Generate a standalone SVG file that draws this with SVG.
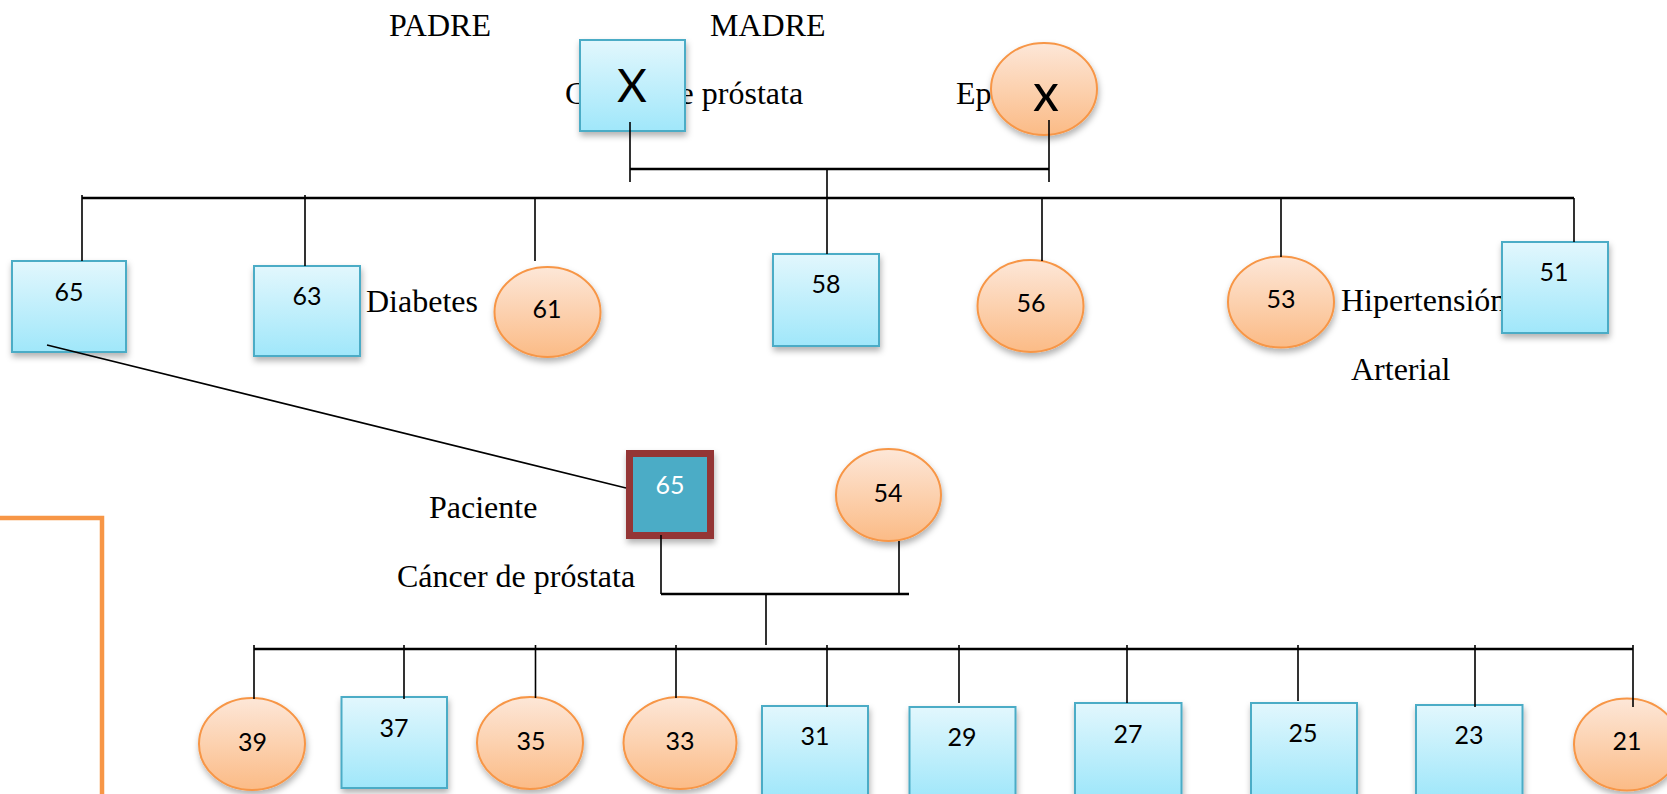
<svg xmlns="http://www.w3.org/2000/svg" width="1667" height="794" viewBox="0 0 1667 794">
<defs>
<linearGradient id="gB" x1="0" y1="0" x2="0" y2="1"><stop offset="0" stop-color="#e2f7fd"/><stop offset="1" stop-color="#a0e7fa"/></linearGradient>
<linearGradient id="gO" x1="0" y1="0" x2="0" y2="1"><stop offset="0" stop-color="#fde7d8"/><stop offset="1" stop-color="#fbbb86"/></linearGradient>
<filter id="sh" x="-20%" y="-20%" width="140%" height="150%"><feDropShadow dx="1" dy="4" stdDeviation="3" flood-color="#000" flood-opacity="0.3"/></filter>
</defs>
<style>
.sq{fill:url(#gB);stroke:#4bacc6;stroke-width:2;filter:url(#sh)}
.el{fill:url(#gO);stroke:#f79646;stroke-width:2;filter:url(#sh)}
.num{font-family:Lato,"Open Sans",sans-serif;font-size:25px;fill:#000;text-anchor:middle}
.big{font-family:Lato,"Open Sans",sans-serif;fill:#000;text-anchor:middle}
.lbl{font-family:"Liberation Serif","Times New Roman",serif;font-size:32px;fill:#000}
.ln{stroke:#000;stroke-width:1.6;fill:none}
.th{stroke:#000;stroke-width:2.6;fill:none}
</style>
<rect width="1667" height="794" fill="#fff"/>
<g id="labels">
<text class="lbl" x="389" y="36">PADRE</text>
<text class="lbl" x="710" y="36">MADRE</text>
<text class="lbl" x="565" y="104">Cáncer de próstata</text>
<text class="lbl" x="956" y="104">Ep</text>
<text class="lbl" x="366" y="312">Diabetes</text>
<text class="lbl" x="1341" y="311">Hipertensión</text>
<text class="lbl" x="1351" y="380">Arterial</text>
<text class="lbl" x="429" y="518">Paciente</text>
<text class="lbl" x="397" y="587">Cáncer de próstata</text>
</g>
<polyline points="0,518 102,518 102,794" fill="none" stroke="#f79646" stroke-width="4.5"/>
<g id="padre"><rect class="sq" x="580" y="40" width="105" height="91"/><text class="big" x="632" y="102" font-size="46">X</text></g>
<g id="madre"><ellipse class="el" cx="1044" cy="89" rx="53" ry="46"/><text class="big" x="1046" y="111" font-size="52">x</text></g>
<g id="h65"><rect class="sq" x="12" y="261" width="114" height="91"/><text class="num" x="69" y="301">65</text></g>
<g id="h63"><rect class="sq" x="254" y="266" width="106" height="90"/><text class="num" x="307" y="305">63</text></g>
<g id="h61"><ellipse class="el" cx="547.5" cy="312" rx="53" ry="45"/><text class="num" x="547" y="318">61</text></g>
<g id="h58"><rect class="sq" x="773" y="254" width="106" height="92"/><text class="num" x="826" y="293">58</text></g>
<g id="h56"><ellipse class="el" cx="1030.5" cy="306" rx="53" ry="46"/><text class="num" x="1031" y="312">56</text></g>
<g id="h53"><ellipse class="el" cx="1281" cy="302" rx="53" ry="45.5"/><text class="num" x="1281" y="308">53</text></g>
<g id="h51"><rect class="sq" x="1502" y="242" width="106" height="91"/><text class="num" x="1554" y="281">51</text></g>
<g id="paciente"><rect x="629.5" y="453.5" width="81" height="82" fill="#4bacc6" stroke="#943634" stroke-width="7" filter="url(#sh)"/><text class="num" x="670" y="494" style="fill:#fff">65</text></g>
<g id="esposa"><ellipse class="el" cx="888.5" cy="495" rx="52.5" ry="46"/><text class="num" x="888" y="502">54</text></g>
<g id="c39"><ellipse class="el" cx="252" cy="744" rx="53" ry="46"/><text class="num" x="252.5" y="751">39</text></g>
<g id="c37"><rect class="sq" x="341.5" y="697" width="105.5" height="91"/><text class="num" x="394" y="737">37</text></g>
<g id="c35"><ellipse class="el" cx="530" cy="743" rx="53" ry="46"/><text class="num" x="531" y="750">35</text></g>
<g id="c33"><ellipse class="el" cx="680" cy="743" rx="56.5" ry="46"/><text class="num" x="680" y="750">33</text></g>
<g id="c31"><rect class="sq" x="762" y="706" width="106" height="92"/><text class="num" x="815" y="745">31</text></g>
<g id="c29"><rect class="sq" x="909.5" y="707" width="106" height="92"/><text class="num" x="962" y="746">29</text></g>
<g id="c27"><rect class="sq" x="1075" y="703" width="106.5" height="92"/><text class="num" x="1128" y="743">27</text></g>
<g id="c25"><rect class="sq" x="1251" y="703" width="106" height="92"/><text class="num" x="1303" y="742">25</text></g>
<g id="c23"><rect class="sq" x="1416" y="705" width="106.5" height="92"/><text class="num" x="1469" y="744">23</text></g>
<g id="c21"><ellipse class="el" cx="1627" cy="744.5" rx="53" ry="46"/><text class="num" x="1627" y="750">21</text></g>
<g id="connectors">
<path class="ln" d="M630 122V182M1049 120V182M827 169V198"/>
<path class="th" d="M630 169H1049M82 198H1574"/>
<path class="ln" d="M82 195V261M305 195V266M535 198V261M827 198V254M1042 198V261M1281 198V257M1574 198V242"/>
<path class="ln" d="M47 345L626 488"/>
<path class="ln" d="M661 535V594M899 541V594M766 594V645"/>
<path class="th" d="M661 594H909M254 649H1633"/>
<path class="ln" d="M254 645V699M404 645V699M535.5 645V698M676 645V698M827 645V707M959 645V703M1127 645V703M1298 645V701M1475 645V707M1633 645V707"/>
</g>
</svg>
